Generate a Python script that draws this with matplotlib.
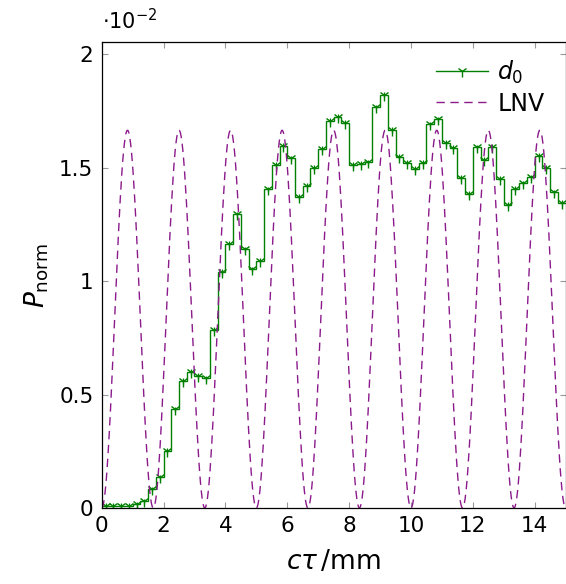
import numpy as np
import matplotlib
matplotlib.use('Agg')
import matplotlib.pyplot as plt
from matplotlib.lines import Line2D

plt.rcParams['font.family'] = ['DejaVu Sans']
plt.rcParams['mathtext.fontset'] = 'dejavusans'

# d0 histogram, 0.25 mm bins from 0 to 15 mm (values in units of 1e-2)
bin_width = 0.25
d0_vals = [0.01, 0.01, 0.01, 0.01, 0.016, 0.03, 0.082, 0.135, 0.252, 0.435,
           0.56, 0.60, 0.581, 0.571, 0.786, 1.04, 1.163, 1.294, 1.14, 1.052,
           1.09, 1.404, 1.511, 1.595, 1.54, 1.371, 1.419, 1.50, 1.581, 1.705,
           1.722, 1.698, 1.511, 1.515, 1.523, 1.765, 1.819, 1.666, 1.547, 1.522,
           1.493, 1.521, 1.69, 1.712, 1.609, 1.586, 1.455, 1.383, 1.589, 1.535,
           1.591, 1.451, 1.336, 1.405, 1.43, 1.457, 1.551, 1.499, 1.391, 1.344]
d0_err = 0.012  # same units

# LNV curve: zeros and lobe heights (units of 1e-2)
lnv_zeros = [0.0, 1.667, 3.333, 5.0, 6.667, 8.333, 10.0, 11.667, 13.333, 15.0]
lnv_peaks = [1.665, 1.665, 1.665, 1.665, 1.665, 1.665, 1.665, 1.665, 1.665]

d0 = np.array(d0_vals) * 1e-2
edges = np.arange(len(d0) + 1) * bin_width
centers = edges[:-1] + bin_width / 2

fig = plt.figure(figsize=(5.66, 5.84), dpi=100)
ax = fig.add_axes([0.1797, 0.130, 0.8196, 0.798])

green = '#008000'
purple = '#8b1a8b'

ax.stairs(d0, edges, color=green, lw=1.0, baseline=None)
ax.errorbar(centers, d0, yerr=d0_err * 1e-2, fmt='none', ecolor=green, elinewidth=0.9)
ax.plot(centers, d0, ls='none', marker='1', ms=8, mew=1.0, color=green)

# each LNV lobe is a sin^2 arch between two neighbouring zeros
lx, ly = [], []
for z0, z1, h in zip(lnv_zeros[:-1], lnv_zeros[1:], lnv_peaks):
    t = np.linspace(0, 1, 60)
    lx.append(z0 + t * (z1 - z0))
    ly.append(h * 1e-2 * np.sin(np.pi * t) ** 2)
ax.plot(np.concatenate(lx), np.concatenate(ly), color=purple, lw=1.0, dashes=(6, 4))

ax.set_xlim(0, 15)
ax.set_ylim(0, 0.02053)
ax.set_xticks([0, 2, 4, 6, 8, 10, 12, 14])
ax.set_yticks([0, 0.005, 0.01, 0.015, 0.02])
ax.set_yticklabels(['0', '0.5', '1', '1.5', '2'])
ax.tick_params(direction='in', length=4.5, width=0.8, color='#999999',
               top=True, right=True, labelsize=15.5, pad=6)
for s in ax.spines.values():
    s.set_linewidth(0.9)

ax.set_xlabel(r'$c\tau\,/\mathrm{mm}$', fontsize=19, labelpad=9)
ax.set_ylabel(r'$P_{\mathrm{norm}}$', fontsize=19, labelpad=6)
ax.text(0.0, 1.018, r'$\cdot10^{-2}$', transform=ax.transAxes, fontsize=15,
        ha='left', va='bottom')

handles = [Line2D([], [], color=green, lw=1.0, marker='1', ms=8, mew=1.0),
           Line2D([], [], color=purple, lw=1.0, dashes=(6, 4))]
ax.legend(handles, [r'$d_0$', 'LNV'], loc='upper right', frameon=False,
          fontsize=17, handlelength=2.2, handletextpad=0.4, labelspacing=0.25,
          bbox_to_anchor=(1.0, 1.01))

fig.savefig('out.png', dpi=100)
